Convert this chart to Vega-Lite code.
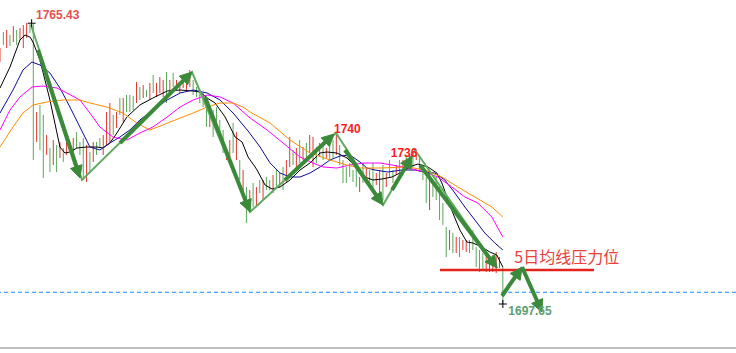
{
"$schema":"https://vega.github.io/schema/vega-lite/v6.json",
"width":736,"height":353,"autosize":{"type":"none"},"padding":0,"background":"white",
"config":{"view":{"stroke":null}},
"datasets":{
"bars":[
{"t":0,"p":1759.5,"l":1756,"d":"d"},{"t":1,"p":1763.5,"l":1760.25,"d":"u"},{"t":2,"p":1764,"l":1759.5,"d":"d"},{"t":3,"p":1762.75,"l":1760,"d":"u"},{"t":4,"p":1765,"l":1761,"d":"d"},{"t":5,"p":1764,"l":1760.25,"d":"u"},{"t":6,"p":1764.5,"l":1761.5,"d":"d"},{"t":7,"p":1765.25,"l":1759.5,"d":"d"},{"t":8,"p":1765.75,"l":1762,"d":"d"},{"t":9,"p":1765.5,"l":1763.25,"d":"u"},
{"t":10,"p":1765.5,"l":1731.5,"d":"u"},{"t":11,"p":1743.5,"l":1736,"d":"d"},{"t":12,"p":1745.25,"l":1734,"d":"u"},{"t":13,"p":1742.75,"l":1727,"d":"u"},{"t":14,"p":1737.75,"l":1732.75,"d":"d"},{"t":15,"p":1734.5,"l":1728.5,"d":"u"},{"t":16,"p":1736.5,"l":1730.25,"d":"d"},{"t":17,"p":1735.25,"l":1728.5,"d":"u"},{"t":18,"p":1736,"l":1732,"d":"d"},{"t":19,"p":1734.5,"l":1731,"d":"u"},
{"t":20,"p":1737,"l":1732.75,"d":"d"},{"t":21,"p":1736,"l":1733.5,"d":"u"},{"t":22,"p":1737,"l":1732.75,"d":"d"},{"t":23,"p":1738.5,"l":1734.5,"d":"u"},{"t":24,"p":1736,"l":1732.75,"d":"u"},{"t":25,"p":1737,"l":1726.5,"d":"u"},{"t":26,"p":1735.25,"l":1726,"d":"d"},{"t":27,"p":1733.5,"l":1728.5,"d":"u"},{"t":28,"p":1736,"l":1731,"d":"d"},{"t":29,"p":1736,"l":1732.75,"d":"u"},
{"t":30,"p":1737,"l":1734.5,"d":"u"},{"t":31,"p":1737.75,"l":1732.75,"d":"d"},{"t":32,"p":1743.5,"l":1735.25,"d":"d"},{"t":33,"p":1745.75,"l":1736,"d":"d"},{"t":34,"p":1742.75,"l":1737.75,"d":"u"},{"t":35,"p":1743.5,"l":1739.5,"d":"d"},{"t":36,"p":1747,"l":1742.75,"d":"u"},{"t":37,"p":1747,"l":1741,"d":"d"},{"t":38,"p":1747.75,"l":1743.5,"d":"u"},{"t":39,"p":1747.75,"l":1743.5,"d":"u"},
{"t":40,"p":1747.5,"l":1744,"d":"u"},{"t":41,"p":1751,"l":1745.75,"d":"d"},{"t":42,"p":1749.75,"l":1746.5,"d":"u"},{"t":43,"p":1750.25,"l":1747,"d":"d"},{"t":44,"p":1749,"l":1747.25,"d":"u"},{"t":45,"p":1750.75,"l":1746.5,"d":"d"},{"t":46,"p":1752.75,"l":1748.25,"d":"u"},{"t":47,"p":1750.75,"l":1747.25,"d":"d"},{"t":48,"p":1752.25,"l":1748.25,"d":"d"},{"t":49,"p":1751.5,"l":1747.25,"d":"d"},
{"t":50,"p":1753.5,"l":1745.75,"d":"u"},{"t":51,"p":1751.5,"l":1748.25,"d":"d"},{"t":52,"p":1753.25,"l":1749.75,"d":"u"},{"t":53,"p":1751.5,"l":1749,"d":"d"},{"t":54,"p":1751,"l":1748.25,"d":"d"},{"t":55,"p":1752.5,"l":1749.5,"d":"d"},{"t":56,"p":1752,"l":1748.5,"d":"d"},{"t":57,"p":1754,"l":1749.75,"d":"d"},{"t":58,"p":1751.5,"l":1747.75,"d":"u"},{"t":59,"p":1749.75,"l":1747.25,"d":"u"},
{"t":60,"p":1749,"l":1745.75,"d":"u"},{"t":61,"p":1748.25,"l":1744.75,"d":"u"},{"t":62,"p":1746.5,"l":1739.75,"d":"u"},{"t":63,"p":1744,"l":1739.75,"d":"d"},{"t":64,"p":1744,"l":1737.25,"d":"u"},{"t":65,"p":1744.75,"l":1739,"d":"u"},{"t":66,"p":1741.5,"l":1736.5,"d":"u"},{"t":67,"p":1739,"l":1733.25,"d":"u"},{"t":68,"p":1734.5,"l":1731.5,"d":"d"},{"t":69,"p":1736.5,"l":1732.25,"d":"d"},
{"t":70,"p":1740.75,"l":1733.25,"d":"u"},{"t":71,"p":1738.5,"l":1731.5,"d":"d"},{"t":72,"p":1731.5,"l":1726.5,"d":"u"},{"t":73,"p":1729,"l":1722.75,"d":"d"},{"t":74,"p":1724.75,"l":1715.75,"d":"u"},{"t":75,"p":1724,"l":1720.25,"d":"d"},{"t":76,"p":1725.75,"l":1719.75,"d":"u"},{"t":77,"p":1724.75,"l":1719.75,"d":"d"},{"t":78,"p":1726.5,"l":1723.25,"d":"u"},{"t":79,"p":1726.5,"l":1721.5,"d":"d"},
{"t":80,"p":1727.25,"l":1724,"d":"u"},{"t":81,"p":1726.5,"l":1724,"d":"u"},{"t":82,"p":1727.75,"l":1723.25,"d":"d"},{"t":83,"p":1729,"l":1724.75,"d":"u"},{"t":84,"p":1728.25,"l":1724.75,"d":"d"},{"t":85,"p":1729.75,"l":1724,"d":"u"},{"t":86,"p":1731.5,"l":1725.75,"d":"d"},{"t":87,"p":1737.25,"l":1729.75,"d":"d"},{"t":88,"p":1734,"l":1730.25,"d":"u"},{"t":89,"p":1734.5,"l":1729.75,"d":"d"},
{"t":90,"p":1736.5,"l":1730.75,"d":"u"},{"t":91,"p":1734.75,"l":1731.5,"d":"d"},{"t":92,"p":1735.75,"l":1732.25,"d":"u"},{"t":93,"p":1737.75,"l":1733.25,"d":"d"},{"t":94,"p":1737.25,"l":1729.75,"d":"d"},{"t":95,"p":1734.75,"l":1730.75,"d":"u"},{"t":96,"p":1735.75,"l":1732.25,"d":"d"},{"t":97,"p":1735.75,"l":1731.5,"d":"u"},{"t":98,"p":1734.5,"l":1732,"d":"d"},{"t":99,"p":1735.75,"l":1731.5,"d":"u"},
{"t":100,"p":1736.5,"l":1732,"d":"u"},{"t":101,"p":1738.25,"l":1732.75,"d":"d"},{"t":102,"p":1735.25,"l":1730.25,"d":"u"},{"t":103,"p":1731.5,"l":1725.75,"d":"u"},{"t":104,"p":1729.75,"l":1725.75,"d":"u"},{"t":105,"p":1730.75,"l":1727.25,"d":"u"},{"t":106,"p":1729,"l":1726,"d":"u"},{"t":107,"p":1729.75,"l":1724.75,"d":"u"},{"t":108,"p":1727.25,"l":1723.5,"d":"d"},{"t":109,"p":1730.75,"l":1725.75,"d":"u"},
{"t":110,"p":1729.75,"l":1726.5,"d":"d"},{"t":111,"p":1729,"l":1725.25,"d":"u"},{"t":112,"p":1730.75,"l":1724,"d":"u"},{"t":113,"p":1728.25,"l":1725.25,"d":"d"},{"t":114,"p":1729,"l":1722.25,"d":"d"},{"t":115,"p":1730.25,"l":1721.5,"d":"u"},{"t":116,"p":1728.25,"l":1724.75,"d":"d"},{"t":117,"p":1731.5,"l":1727.25,"d":"u"},{"t":118,"p":1729,"l":1725.75,"d":"u"},{"t":119,"p":1730.25,"l":1727.75,"d":"d"},
{"t":120,"p":1731.5,"l":1728.25,"d":"u"},{"t":121,"p":1731.5,"l":1729,"d":"d"},{"t":122,"p":1732.75,"l":1729.5,"d":"u"},{"t":123,"p":1733.25,"l":1730.75,"d":"d"},{"t":124,"p":1733.25,"l":1729.75,"d":"u"},{"t":125,"p":1734,"l":1731.5,"d":"d"},{"t":126,"p":1732.75,"l":1728.5,"d":"u"},{"t":127,"p":1729.75,"l":1726.5,"d":"u"},{"t":128,"p":1727.25,"l":1720.75,"d":"u"},{"t":129,"p":1728.25,"l":1719,"d":"d"},
{"t":130,"p":1726.5,"l":1722.25,"d":"u"},{"t":131,"p":1727.25,"l":1721.5,"d":"u"},{"t":132,"p":1724.75,"l":1716.5,"d":"u"},{"t":133,"p":1720.75,"l":1715.25,"d":"u"},{"t":134,"p":1714.75,"l":1707.25,"d":"u"},{"t":135,"p":1714,"l":1709,"d":"d"},{"t":136,"p":1713.25,"l":1708.25,"d":"u"},{"t":137,"p":1712.25,"l":1708.25,"d":"d"},{"t":138,"p":1712.25,"l":1707.25,"d":"u"},{"t":139,"p":1711.5,"l":1709,"d":"d"},
{"t":140,"p":1711.5,"l":1708.5,"d":"d"},{"t":141,"p":1711.5,"l":1708.25,"d":"u"},{"t":142,"p":1714,"l":1709,"d":"u"},{"t":143,"p":1709.75,"l":1704.75,"d":"u"},{"t":144,"p":1709,"l":1703.5,"d":"u"},{"t":145,"p":1708.25,"l":1704,"d":"u"},{"t":146,"p":1708.5,"l":1703.5,"d":"d"},{"t":147,"p":1707.75,"l":1703.5,"d":"d"},{"t":148,"p":1707.75,"l":1703.5,"d":"d"},{"t":149,"p":1708.5,"l":1703.25,"d":"d"},
{"t":150,"p":1707.25,"l":1704.5,"d":"d"},{"t":151,"p":1704.75,"l":1695.5,"d":"u"}
],
"ma":[
{"s":"k","t":0,"p":1749.5},{"s":"k","t":3,"p":1754.75},{"s":"k","t":6,"p":1761.5},{"s":"k","t":7.5,"p":1762.75},{"s":"k","t":9,"p":1762.25},{"s":"k","t":9.9,"p":1761},{"s":"k","t":12,"p":1756.5},{"s":"k","t":15,"p":1746.5},{"s":"k","t":18,"p":1734.75},{"s":"k","t":19.5,"p":1733.25},{"s":"k","t":21,"p":1733.5},{"s":"k","t":23.1,"p":1734.5},{"s":"k","t":26.1,"p":1734.75},{"s":"k","t":29.1,"p":1734.75},{"s":"k","t":30.9,"p":1734.5},{"s":"k","t":33,"p":1735.75},{"s":"k","t":35.1,"p":1738.25},{"s":"k","t":38.1,"p":1742.25},{"s":"k","t":42,"p":1745.25},{"s":"k","t":45.9,"p":1747},{"s":"k","t":50.2,"p":1748.75},{"s":"k","t":54.1,"p":1749},{"s":"k","t":58,"p":1748.75},{"s":"k","t":60.1,"p":1748.5},{"s":"k","t":62.2,"p":1747},{"s":"k","t":64.6,"p":1745.75},{"s":"k","t":67.6,"p":1742.25},{"s":"k","t":70.6,"p":1737.25},{"s":"k","t":72.7,"p":1736},{"s":"k","t":74.5,"p":1732.25},{"s":"k","t":76.6,"p":1729.75},{"s":"k","t":77.2,"p":1729},{"s":"k","t":79.6,"p":1725.25},{"s":"k","t":81.7,"p":1724.25},{"s":"k","t":84.1,"p":1724.75},{"s":"k","t":87.1,"p":1726.5},{"s":"k","t":90.1,"p":1729},{"s":"k","t":93.1,"p":1730.75},{"s":"k","t":96.1,"p":1733.25},{"s":"k","t":98.2,"p":1733.5},{"s":"k","t":101.2,"p":1733.25},{"s":"k","t":104.2,"p":1732},{"s":"k","t":107.2,"p":1729.5},{"s":"k","t":109.6,"p":1727.25},{"s":"k","t":112,"p":1726.5},{"s":"k","t":114.7,"p":1726.75},{"s":"k","t":117.7,"p":1727.25},{"s":"k","t":120.7,"p":1728.5},{"s":"k","t":123.7,"p":1730},{"s":"k","t":125.5,"p":1730.5},{"s":"k","t":128.5,"p":1729.75},{"s":"k","t":131.2,"p":1728.25},{"s":"k","t":132.7,"p":1725.75},{"s":"k","t":134.2,"p":1722.25},{"s":"k","t":136,"p":1718.25},{"s":"k","t":138.1,"p":1714},{"s":"k","t":140.2,"p":1711},{"s":"k","t":142,"p":1710.75},{"s":"k","t":144.7,"p":1709.75},{"s":"k","t":147.1,"p":1708.5},{"s":"k","t":149.2,"p":1707.75},{"s":"k","t":151,"p":1704.75},
{"s":"b","t":0,"p":1743.25},{"s":"b","t":3.9,"p":1749},{"s":"b","t":6.9,"p":1754},{"s":"b","t":9.6,"p":1756},{"s":"b","t":12,"p":1755.25},{"s":"b","t":15,"p":1753.25},{"s":"b","t":18,"p":1749.5},{"s":"b","t":21,"p":1744.75},{"s":"b","t":24,"p":1739.75},{"s":"b","t":27,"p":1734.75},{"s":"b","t":30,"p":1734},{"s":"b","t":33,"p":1735.75},{"s":"b","t":36,"p":1737.25},{"s":"b","t":39,"p":1739},{"s":"b","t":42,"p":1741.5},{"s":"b","t":45.9,"p":1744},{"s":"b","t":50.2,"p":1746.5},{"s":"b","t":54.1,"p":1748.25},{"s":"b","t":58,"p":1749},{"s":"b","t":62.2,"p":1748.25},{"s":"b","t":66.1,"p":1746.5},{"s":"b","t":70,"p":1743.25},{"s":"b","t":74.5,"p":1738.75},{"s":"b","t":78.1,"p":1734.75},{"s":"b","t":81.1,"p":1730.75},{"s":"b","t":84.1,"p":1728.25},{"s":"b","t":87.1,"p":1727.25},{"s":"b","t":90.1,"p":1727.25},{"s":"b","t":93.1,"p":1728.25},{"s":"b","t":96.1,"p":1729.75},{"s":"b","t":99.1,"p":1731.5},{"s":"b","t":102.1,"p":1732.5},{"s":"b","t":105.1,"p":1732.75},{"s":"b","t":108.1,"p":1731},{"s":"b","t":110.2,"p":1729.5},{"s":"b","t":112.6,"p":1729},{"s":"b","t":116.5,"p":1728.5},{"s":"b","t":120.7,"p":1729},{"s":"b","t":124.6,"p":1729},{"s":"b","t":127.6,"p":1728.5},{"s":"b","t":130.6,"p":1728.25},{"s":"b","t":133.6,"p":1726.5},{"s":"b","t":136.6,"p":1723.25},{"s":"b","t":139.6,"p":1719.75},{"s":"b","t":142.6,"p":1716.5},{"s":"b","t":145.6,"p":1713.25},{"s":"b","t":148.6,"p":1710.75},{"s":"b","t":151,"p":1709},
{"s":"m","t":0,"p":1739},{"s":"m","t":3,"p":1744},{"s":"m","t":6,"p":1747.25},{"s":"m","t":9.6,"p":1749.75},{"s":"m","t":12.9,"p":1750},{"s":"m","t":17.1,"p":1749.5},{"s":"m","t":20.1,"p":1748.25},{"s":"m","t":24,"p":1746.5},{"s":"m","t":27,"p":1743.25},{"s":"m","t":30,"p":1739.75},{"s":"m","t":33.9,"p":1737.25},{"s":"m","t":38.1,"p":1736.5},{"s":"m","t":42,"p":1738.25},{"s":"m","t":45.9,"p":1739.75},{"s":"m","t":50.2,"p":1742.25},{"s":"m","t":54.1,"p":1744.75},{"s":"m","t":58,"p":1746.5},{"s":"m","t":62.2,"p":1747.75},{"s":"m","t":66.1,"p":1747.25},{"s":"m","t":70,"p":1745.75},{"s":"m","t":75.1,"p":1742},{"s":"m","t":80.2,"p":1739},{"s":"m","t":85,"p":1735.75},{"s":"m","t":90.1,"p":1732.25},{"s":"m","t":94,"p":1730.75},{"s":"m","t":97,"p":1729.75},{"s":"m","t":101.2,"p":1729.5},{"s":"m","t":105.1,"p":1730.25},{"s":"m","t":109,"p":1730.75},{"s":"m","t":114.1,"p":1730.75},{"s":"m","t":117.7,"p":1730.25},{"s":"m","t":122.5,"p":1729.5},{"s":"m","t":127.6,"p":1728.5},{"s":"m","t":131.5,"p":1727.25},{"s":"m","t":135.7,"p":1724.75},{"s":"m","t":139.6,"p":1722.25},{"s":"m","t":143.5,"p":1720.75},{"s":"m","t":147.7,"p":1717.25},{"s":"m","t":151,"p":1712.25},
{"s":"o","t":0,"p":1734.75},{"s":"o","t":3.9,"p":1739.75},{"s":"o","t":6.9,"p":1743.25},{"s":"o","t":9.9,"p":1745.25},{"s":"o","t":14.1,"p":1746},{"s":"o","t":18.9,"p":1746.5},{"s":"o","t":24,"p":1746.5},{"s":"o","t":27,"p":1745.75},{"s":"o","t":32.1,"p":1744.75},{"s":"o","t":36.9,"p":1743.25},{"s":"o","t":41.1,"p":1740.75},{"s":"o","t":45,"p":1739},{"s":"o","t":48.9,"p":1740.25},{"s":"o","t":54.1,"p":1742},{"s":"o","t":58,"p":1743.25},{"s":"o","t":62.2,"p":1744.75},{"s":"o","t":66.1,"p":1745.75},{"s":"o","t":70,"p":1745.75},{"s":"o","t":73,"p":1744.75},{"s":"o","t":75.1,"p":1743.5},{"s":"o","t":81.1,"p":1740.75},{"s":"o","t":87.1,"p":1736.5},{"s":"o","t":93.1,"p":1733.25},{"s":"o","t":99.1,"p":1731.5},{"s":"o","t":104.2,"p":1730.25},{"s":"o","t":108.1,"p":1729.5},{"s":"o","t":114.1,"p":1729.5},{"s":"o","t":122.5,"p":1729.75},{"s":"o","t":127.6,"p":1729},{"s":"o","t":132.7,"p":1727.25},{"s":"o","t":137.5,"p":1724.75},{"s":"o","t":142.6,"p":1722.25},{"s":"o","t":147.7,"p":1719.75},{"s":"o","t":151,"p":1717.25}
],
"zig":[
{"k":0,"t":9.31,"p":1765.25},{"k":1,"t":24.62,"p":1726.5},{"k":2,"t":57.66,"p":1753.5},{"k":3,"t":75.08,"p":1718.5},{"k":4,"t":100.9,"p":1738.25},{"k":5,"t":115.02,"p":1720.25},{"k":6,"t":124.62,"p":1734},{"k":7,"t":149.25,"p":1704.5}
],
"shafts":[
{"a":1,"k":0,"t":11.41,"p":1759},{"a":1,"k":1,"t":23.46,"p":1728.43},
{"a":2,"k":0,"t":36.04,"p":1735.75},{"a":2,"k":1,"t":56.37,"p":1752.45},
{"a":3,"k":0,"t":61.56,"p":1747.25},{"a":3,"k":1,"t":74.41,"p":1719.9},
{"a":4,"k":0,"t":85.59,"p":1726.5},{"a":4,"k":1,"t":98.98,"p":1736.98},
{"a":5,"k":0,"t":103.6,"p":1734},{"a":5,"k":1,"t":114.0,"p":1721.48},
{"a":6,"k":0,"t":117.72,"p":1724},{"a":6,"k":1,"t":122.82,"p":1731.2},
{"a":7,"k":0,"t":126.13,"p":1730.25},{"a":7,"k":1,"t":148.17,"p":1705.7},
{"a":8,"k":0,"t":150.75,"p":1697.5},{"a":8,"k":1,"t":155.74,"p":1703.53},
{"a":9,"k":0,"t":156.76,"p":1704.75},{"a":9,"k":1,"t":162.04,"p":1694.88}
],
"heads":[
{"a":1,"k":0,"t":21.19,"p":1729.38},{"a":1,"k":1,"t":24.02,"p":1727},{"a":1,"k":2,"t":24.61,"p":1730.32},{"a":1,"k":3,"t":21.19,"p":1729.38},
{"a":2,"k":0,"t":56.37,"p":1750.33},{"a":2,"k":1,"t":57.66,"p":1753.5},{"a":2,"k":2,"t":53.84,"p":1752.47},{"a":2,"k":3,"t":56.37,"p":1750.33},
{"a":3,"k":0,"t":72.08,"p":1720.76},{"a":3,"k":1,"t":75.08,"p":1718.5},{"a":3,"k":2,"t":75.43,"p":1721.85},{"a":3,"k":3,"t":72.08,"p":1720.76},
{"a":4,"k":0,"t":98.92,"p":1734.86},{"a":4,"k":1,"t":100.3,"p":1738},{"a":4,"k":2,"t":96.46,"p":1737.04},{"a":4,"k":3,"t":98.92,"p":1734.86},
{"a":5,"k":0,"t":111.49,"p":1721.87},{"a":5,"k":1,"t":115.02,"p":1720.25},{"a":5,"k":2,"t":114.45,"p":1723.58},{"a":5,"k":3,"t":111.49,"p":1721.87},
{"a":6,"k":0,"t":123.44,"p":1729.17},{"a":6,"k":1,"t":123.72,"p":1732.5},{"a":6,"k":2,"t":120.34,"p":1730.69},{"a":6,"k":3,"t":123.44,"p":1729.17},
{"a":7,"k":0,"t":145.64,"p":1706},{"a":7,"k":1,"t":149.25,"p":1704.5},{"a":7,"k":2,"t":148.53,"p":1707.8},{"a":7,"k":3,"t":145.64,"p":1706},
{"a":8,"k":0,"t":156.2,"p":1701.42},{"a":8,"k":1,"t":156.76,"p":1704.75},{"a":8,"k":2,"t":153.23,"p":1703.13},{"a":8,"k":3,"t":156.2,"p":1701.42},
{"a":9,"k":0,"t":159.65,"p":1695.64},{"a":9,"k":1,"t":162.76,"p":1693.5},{"a":9,"k":2,"t":162.94,"p":1696.86},{"a":9,"k":3,"t":159.65,"p":1695.64}
]
},
"layer":[
{"data":{"name":"bars"},"mark":{"type":"rule","strokeWidth":1},
 "encoding":{
  "x":{"field":"t","type":"quantitative","scale":{"domain":[0,221.02],"nice":false,"zero":false},"axis":null},
  "y":{"field":"p","type":"quantitative","scale":{"domain":[1683.25,1771.5],"nice":false,"zero":false},"axis":null},
  "y2":{"field":"l"},
  "color":{"field":"d","type":"nominal","scale":{"domain":["u","d"],"range":["#5ba75b","#e0392f"]},"legend":null}}},
{"data":{"name":"ma"},"mark":{"type":"line","strokeWidth":1},
 "encoding":{
  "x":{"field":"t","type":"quantitative","scale":{"domain":[0,221.02],"nice":false,"zero":false},"axis":null},
  "y":{"field":"p","type":"quantitative","scale":{"domain":[1683.25,1771.5],"nice":false,"zero":false},"axis":null},
  "color":{"field":"s","type":"nominal","scale":{"domain":["k","b","m","o"],"range":["#000000","#0b0b98","#ff00ff","#ff8c00"]},"legend":null},
  "detail":{"field":"s"}}},
{"data":{"values":[{"p":1704,"t":132.13,"t2":178.38}]},"mark":{"type":"rule","strokeWidth":2.5,"color":"#e3231c"},
 "encoding":{
  "x":{"field":"t","type":"quantitative","scale":{"domain":[0,221.02],"nice":false,"zero":false},"axis":null},
  "x2":{"field":"t2"},
  "y":{"field":"p","type":"quantitative","scale":{"domain":[1683.25,1771.5],"nice":false,"zero":false},"axis":null}}},
{"data":{"values":[{"p":1698.43}]},"mark":{"type":"rule","strokeWidth":1,"color":"#1a8cff","strokeDash":[4,3]},
 "encoding":{
  "y":{"field":"p","type":"quantitative","scale":{"domain":[1683.25,1771.5],"nice":false,"zero":false},"axis":null}}},
{"data":{"values":[{"p":1684.5}]},"mark":{"type":"rule","strokeWidth":1.2,"color":"#808080"},
 "encoding":{
  "y":{"field":"p","type":"quantitative","scale":{"domain":[1683.25,1771.5],"nice":false,"zero":false},"axis":null}}},
{"data":{"name":"zig"},"mark":{"type":"line","strokeWidth":2,"color":"#62ab62"},
 "encoding":{
  "x":{"field":"t","type":"quantitative","scale":{"domain":[0,221.02],"nice":false,"zero":false},"axis":null},
  "y":{"field":"p","type":"quantitative","scale":{"domain":[1683.25,1771.5],"nice":false,"zero":false},"axis":null},
  "order":{"field":"k"}}},
{"data":{"name":"shafts"},"mark":{"type":"line","strokeWidth":4,"color":"#3a8a3a","strokeCap":"butt"},
 "encoding":{
  "x":{"field":"t","type":"quantitative","scale":{"domain":[0,221.02],"nice":false,"zero":false},"axis":null},
  "y":{"field":"p","type":"quantitative","scale":{"domain":[1683.25,1771.5],"nice":false,"zero":false},"axis":null},
  "detail":{"field":"a"},"order":{"field":"k"}}},
{"data":{"name":"heads"},"mark":{"type":"line","strokeWidth":1,"color":"#3a8a3a","fill":"#3a8a3a"},
 "encoding":{
  "x":{"field":"t","type":"quantitative","scale":{"domain":[0,221.02],"nice":false,"zero":false},"axis":null},
  "y":{"field":"p","type":"quantitative","scale":{"domain":[1683.25,1771.5],"nice":false,"zero":false},"axis":null},
  "detail":{"field":"a"},"order":{"field":"k"}}},
{"data":{"values":[{"t":9.5,"p":1765.7},{"t":151,"p":1695.5}]},"mark":{"type":"point","shape":"M-1,0H1M0,-1V1","size":64,"filled":false,"color":"#000000","strokeWidth":1,"opacity":1},
 "encoding":{
  "x":{"field":"t","type":"quantitative","scale":{"domain":[0,221.02],"nice":false,"zero":false},"axis":null},
  "y":{"field":"p","type":"quantitative","scale":{"domain":[1683.25,1771.5],"nice":false,"zero":false},"axis":null}}},
{"data":{"values":[{"label":"1765.43","t":10.81,"p":1767.75}]},"mark":{"type":"text","align":"left","baseline":"middle","font":"Liberation Sans","fontSize":12,"fontWeight":"bold","color":"#e35050"},
 "encoding":{
  "x":{"field":"t","type":"quantitative","scale":{"domain":[0,221.02],"nice":false,"zero":false},"axis":null},
  "y":{"field":"p","type":"quantitative","scale":{"domain":[1683.25,1771.5],"nice":false,"zero":false},"axis":null},
  "text":{"field":"label"}}},
{"data":{"values":[{"label":"1740","t":100.3,"p":1739.18},{"label":"1736","t":117.33,"p":1733.33}]},"mark":{"type":"text","align":"left","baseline":"middle","font":"Liberation Sans","fontSize":12,"fontWeight":"bold","color":"#ff1a1a"},
 "encoding":{
  "x":{"field":"t","type":"quantitative","scale":{"domain":[0,221.02],"nice":false,"zero":false},"axis":null},
  "y":{"field":"p","type":"quantitative","scale":{"domain":[1683.25,1771.5],"nice":false,"zero":false},"axis":null},
  "text":{"field":"label"}}},
{"data":{"values":[{"label":"1697.65","t":152.64,"p":1693.83}]},"mark":{"type":"text","align":"left","baseline":"middle","font":"Liberation Sans","fontSize":12,"fontWeight":"bold","color":"#5c9e72"},
 "encoding":{
  "x":{"field":"t","type":"quantitative","scale":{"domain":[0,221.02],"nice":false,"zero":false},"axis":null},
  "y":{"field":"p","type":"quantitative","scale":{"domain":[1683.25,1771.5],"nice":false,"zero":false},"axis":null},
  "text":{"field":"label"}}},
{"data":{"values":[{"label":"5日均线压力位","t":154.44,"p":1706.93}]},"mark":{"type":"text","align":"left","baseline":"middle","font":"Noto Sans CJK SC","fontSize":16,"color":"#e8403a"},
 "encoding":{
  "x":{"field":"t","type":"quantitative","scale":{"domain":[0,221.02],"nice":false,"zero":false},"axis":null},
  "y":{"field":"p","type":"quantitative","scale":{"domain":[1683.25,1771.5],"nice":false,"zero":false},"axis":null},
  "text":{"field":"label"}}}
],
"resolve":{"scale":{"color":"independent"}}
}
